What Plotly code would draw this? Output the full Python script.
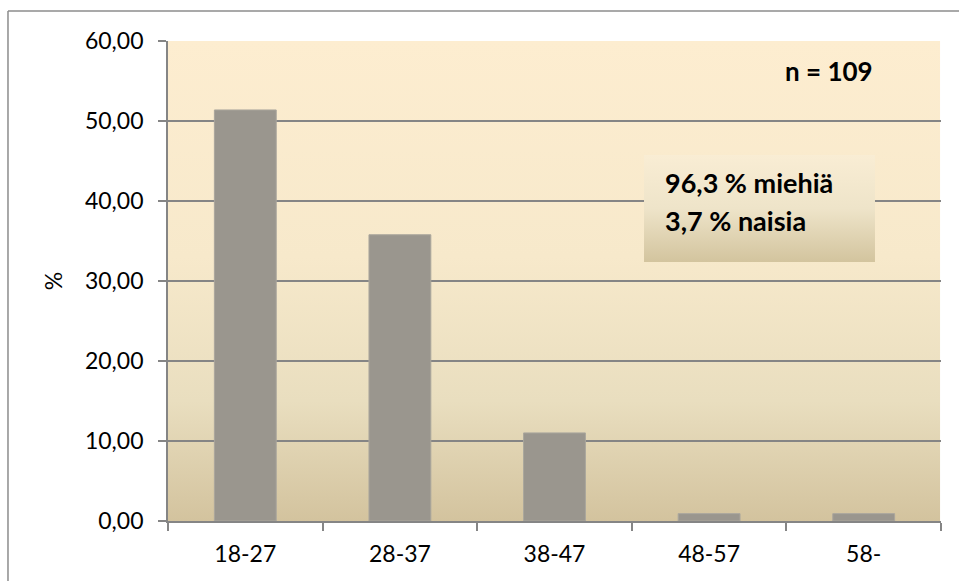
import base64
import plotly.graph_objects as go

# Age groups and share of respondents (%)
age_groups = ["18-27", "28-37", "38-47", "48-57", "58-"]
share_pct = [51.38, 35.78, 11.01, 0.92, 0.92]

sample_label = "n = 109"
gender_lines = ["96,3 % miehiä", "3,7 % naisia"]

FONT = "Lato"
GRID = "#858585"


def gradient_svg(stops):
    """Vertical linear gradient as an SVG data URI; stops = [(offset, colour)]."""
    stop_tags = "".join(
        '<stop offset="%g" stop-color="%s"/>' % (o, c) for o, c in stops
    )
    svg = (
        '<svg xmlns="http://www.w3.org/2000/svg" width="100" height="100" '
        'preserveAspectRatio="none" viewBox="0 0 100 100">'
        '<defs><linearGradient id="g" x1="0" y1="0" x2="0" y2="1">%s'
        '</linearGradient></defs>'
        '<rect x="0" y="0" width="100" height="100" fill="url(#g)"/></svg>'
    ) % stop_tags
    return "data:image/svg+xml;base64," + base64.b64encode(svg.encode()).decode()


plot_gradient = gradient_svg([
    (0.0, "#fdedd0"),
    (0.45, "#f7e9cb"),
    (0.75, "#e9debf"),
    (1.0, "#d3c39e"),
])
box_gradient = gradient_svg([
    (0.0, "#f9edd4"),
    (0.5, "#eee4c9"),
    (1.0, "#d3c49e"),
])

fig = go.Figure(go.Bar(
    x=age_groups, y=share_pct,
    marker=dict(color="#9a968e", line=dict(color="#aaa69d", width=1)),
    hoverinfo="skip",
    cliponaxis=True,
))

fig.update_layout(
    template="none",
    width=959, height=581,
    margin=dict(l=168, r=18, t=41, b=60),
    paper_bgcolor="white",
    plot_bgcolor="rgba(0,0,0,0)",
    separators=", ",
    bargap=0.6,
    showlegend=False,
    font=dict(family=FONT, size=23, color="#000000"),
    images=[
        dict(source=plot_gradient, xref="paper", yref="paper",
             x=0, y=1, sizex=0.999, sizey=1, sizing="stretch",
             xanchor="left", yanchor="top", layer="below"),
        dict(source=box_gradient, xref="paper", yref="paper",
             x=0.6158, y=0.7625, sizex=0.2988, sizey=0.2229, sizing="stretch",
             xanchor="left", yanchor="top", layer="above"),
    ],
    shapes=[
        # Outer chart frame (only top and left edges fall inside the page)
        dict(type="line", xref="paper", yref="paper",
             x0=-0.207, x1=1.1, y0=1.0625, y1=1.0625,
             line=dict(color="#8c8c8c", width=1.5), layer="above"),
        dict(type="line", xref="paper", yref="paper",
             x0=-0.207, x1=-0.207, y0=-0.2, y1=1.0625,
             line=dict(color="#8c8c8c", width=1.5), layer="above"),
    ],
    annotations=[
        dict(text="<b>%s</b>" % sample_label, xref="paper", yref="paper",
             x=0.9146, y=0.9375, xanchor="right", yanchor="middle",
             showarrow=False, font=dict(family=FONT, size=26, color="#000")),
        dict(text="<b>%s</b>" % gender_lines[0], xref="paper", yref="paper",
             x=0.641, y=0.706, xanchor="left", yanchor="middle",
             showarrow=False, font=dict(family=FONT, size=27, color="#000")),
        dict(text="<b>%s</b>" % gender_lines[1], xref="paper", yref="paper",
             x=0.641, y=0.626, xanchor="left", yanchor="middle",
             showarrow=False, font=dict(family=FONT, size=27, color="#000")),
    ],
)

fig.update_yaxes(
    range=[0, 60], dtick=10, tickformat=".2f",
    showgrid=True, gridcolor=GRID, gridwidth=1.8,
    showline=True, linecolor=GRID, linewidth=1.8, mirror=False,
    ticks="outside", ticklen=8, tickcolor=GRID, tickwidth=1.8,
    ticklabelstandoff=10,
    zeroline=False,
    title=dict(text="%", standoff=16, font=dict(size=23)),
    tickfont=dict(size=23),
)
fig.update_xaxes(
    showgrid=False, zeroline=False, mirror=False,
    showline=True, linecolor=GRID, linewidth=1.8,
    ticks="outside", ticklen=8, tickcolor=GRID, tickwidth=1.8,
    tickson="boundaries",
    tickfont=dict(size=23),
    ticklabelstandoff=11,
)

fig.write_html("out.html")
